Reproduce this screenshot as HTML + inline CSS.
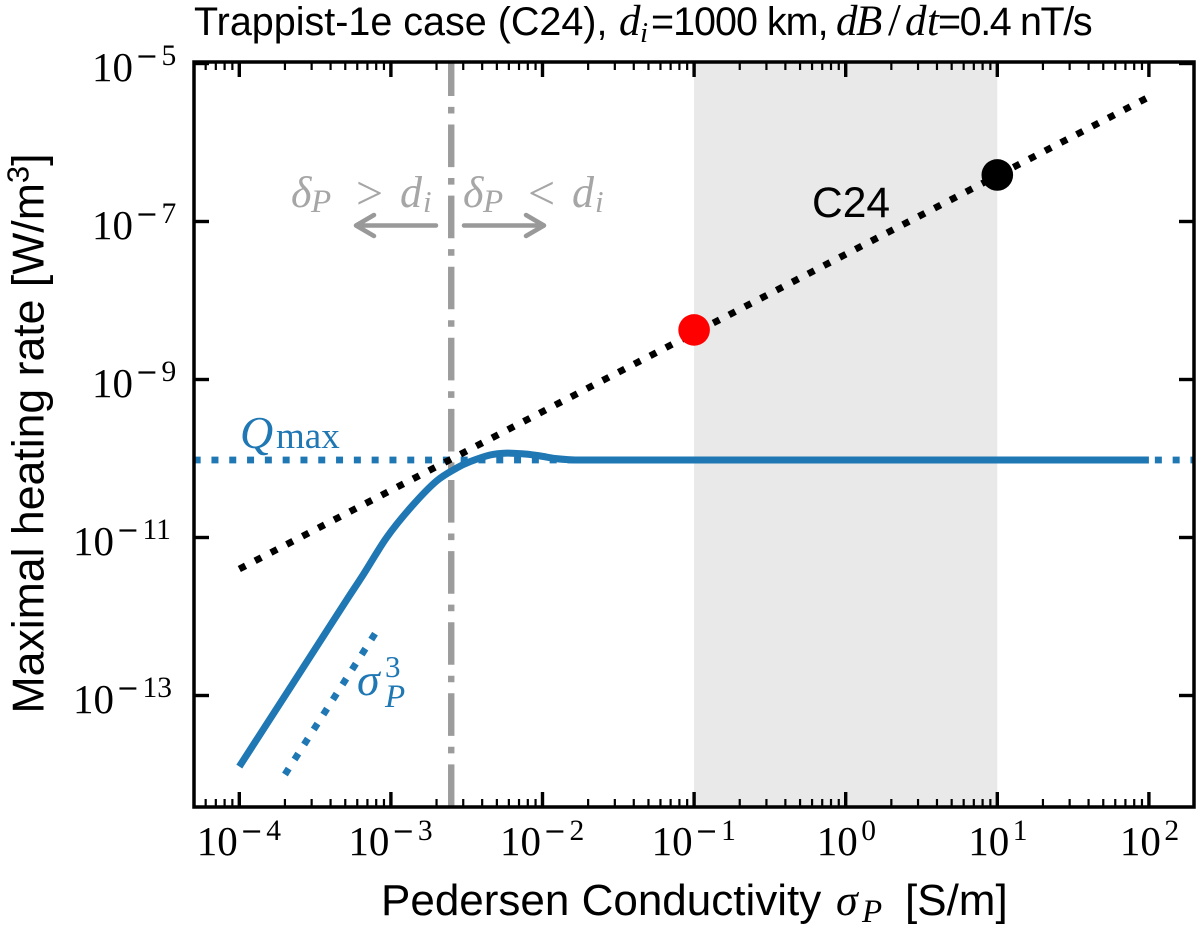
<!DOCTYPE html>
<html lang="en">
<head>
<meta charset="utf-8">
<title>Trappist-1e maximal heating rate</title>
<style>
html,body{margin:0;padding:0;background:#fff;width:1200px;height:930px;overflow:hidden}
svg{display:block}
text{font-family:"Liberation Sans",sans-serif}
.m{font-family:"Liberation Serif",serif;font-style:italic}
.r{font-family:"Liberation Serif",serif}
</style>
</head>
<body>
<svg id="chart" width="1200" height="930" viewBox="0 0 1200 930" xmlns="http://www.w3.org/2000/svg">
  <defs><clipPath id="plot-clip"><rect x="194" y="62" width="1000" height="745"/></clipPath></defs>
  <rect x="0" y="0" width="1200" height="930" fill="#fff"/>
  <g id="marks" clip-path="url(#plot-clip)"></g>
  <g id="axes"></g>

  <text y="35" font-size="39.5" fill="#000"><tspan x="194">Trappist-1e case (C24),</tspan><tspan class="m" x="619" font-size="43">d</tspan><tspan class="m" x="640" y="42" font-size="29">i</tspan><tspan x="651" y="35" letter-spacing="-1">=1000 km,</tspan><tspan class="m" x="836" font-size="43">d</tspan><tspan class="m" x="856" font-size="43">B</tspan><tspan class="r" x="888" font-size="46">/</tspan><tspan class="m" x="905" font-size="43">d</tspan><tspan class="m" x="927" font-size="43">t</tspan><tspan x="938" letter-spacing="-1.4">=0.4 nT/s</tspan></text>

  <text y="915" font-size="44" fill="#000"><tspan x="381">Pedersen Conductivity</tspan><tspan class="m" x="836" font-size="44">σ</tspan><tspan class="m" x="862" y="922" font-size="33">P</tspan><tspan x="905" y="915">[S/m]</tspan></text>

  <text transform="translate(43.5,713.5) rotate(-90)" font-size="44.6" fill="#000">Maximal heating rate [W/m<tspan font-size="31" dy="-15">3</tspan><tspan dy="15">]</tspan></text>

  <text x="812" y="217" font-size="42.5" fill="#000">C24</text>

  <text y="207" font-size="44" fill="#a6a6a6"><tspan class="m" x="291">δ</tspan><tspan class="m" x="311" y="212" font-size="33">P</tspan><tspan class="r" x="356" y="209" font-size="48">&gt;</tspan><tspan class="m" x="400" y="207">d</tspan><tspan class="m" x="423" y="212" font-size="31">i</tspan></text>
  <text y="207" font-size="44" fill="#a6a6a6"><tspan class="m" x="463">δ</tspan><tspan class="m" x="483" y="212" font-size="33">P</tspan><tspan class="r" x="528" y="209" font-size="48">&lt;</tspan><tspan class="m" x="572" y="207">d</tspan><tspan class="m" x="595" y="212" font-size="31">i</tspan></text>

  <text y="448" font-size="46" fill="#1f77b4"><tspan class="m" x="240">Q</tspan><tspan class="r" x="276" font-size="37">max</tspan></text>
  <text y="695" font-size="46" fill="#1f77b4"><tspan class="m" x="357">σ</tspan><tspan class="r" x="385" y="677" font-size="31">3</tspan><tspan class="m" x="385" y="707" font-size="33">P</tspan></text>

  <g fill="none" stroke="#999" stroke-width="4.5" stroke-linecap="round" stroke-linejoin="round">
    <path d="M436 225.5H356M374 215L356 225.5L374 236"/>
  </g>
  <g fill="none" stroke="#999" stroke-width="4.5" stroke-linecap="round" stroke-linejoin="round">
    <path d="M464 225.5H544M526 215L544 225.5L526 236"/>
  </g>
</svg>

<script>
// Chart data
const conductivity = [1e-4, 2.16e-4, 3.4e-4, 5.1e-4, 6.58e-4, 9.38e-4, 1.37e-3, 2.0e-3, 2.72e-3, 3.33e-3, 4.51e-3, 5.8e-3, 7.67e-3, 9.6e-3, 1.21e-2, 1.58e-2, 2.2e-2, 3.2e-2, 1e-1, 1, 10, 100];
const heatingRate = [1.26e-14, 1.245e-13, 4.81e-13, 1.61e-12, 3.4e-12, 1.0e-11, 2.47e-11, 5.19e-11, 7.59e-11, 9.12e-11, 1.107e-10, 1.17e-10, 1.14e-10, 1.08e-10, 1.0e-10, 9.62e-11, 9.57e-11, 9.57e-11, 9.57e-11, 9.57e-11, 9.57e-11, 9.57e-11];
const c24Conductivity = [1e-4, 1e2];
const c24Heating = [3.99e-12, 3.77e-6];
const qmaxConductivity = [5e-5, 2e2];
const qmaxHeating = [9.57e-11, 9.57e-11];
const cubicConductivity = [2e-4, 8e-4];
const cubicHeating = [1e-14, 6.4e-13];
const crossoverConductivity = [2.5e-3];
const shadedRange = [0.1, 10];
const redPointConductivity = [0.1];
const redPointHeating = [4.24e-9];
const blackPointConductivity = [10];
const blackPointHeating = [3.88e-7];
const xTickExponents = [-4, -3, -2, -1, 0, 1, 2];
const yTickExponents = [-5, -7, -9, -11, -13];
const xMinorMultipliers = [2, 3, 4, 5, 6, 7, 8, 9];
const xMinorExponents = [-5, -4, -3, -2, -1, 0, 1, 2];

// Axis functions
const AX = {left: 194, right: 1194, top: 62, bottom: 807};
function xPos(v) { return 239.3 + 151.6 * (Math.log10(v) + 4); }
function yPos(v) { return 63.5 + 79 * (-5 - Math.log10(v)); }

const NS = 'http://www.w3.org/2000/svg';
const marks = document.getElementById('marks');
const axes = document.getElementById('axes');
function make(parent, tag, attrs) {
  const el = document.createElementNS(NS, tag);
  for (const k in attrs) el.setAttribute(k, attrs[k]);
  parent.appendChild(el);
  return el;
}
function linePath(xs, ys) {
  return xs.map((v, i) => (i ? 'L' : 'M') + xPos(v).toFixed(2) + ' ' + yPos(ys[i]).toFixed(2)).join('');
}
function smoothPath(xs, ys) {
  const p = xs.map((v, i) => [xPos(v), yPos(ys[i])]);
  let d = 'M' + p[0][0].toFixed(2) + ' ' + p[0][1].toFixed(2);
  for (let i = 0; i < p.length - 1; i++) {
    const a = p[Math.max(i - 1, 0)], b = p[i], c = p[i + 1], e = p[Math.min(i + 2, p.length - 1)];
    const h = (c[0] - b[0]) / 3;
    const m1 = (c[1] - a[1]) / Math.max(c[0] - a[0], 1);
    const m2 = (e[1] - b[1]) / Math.max(e[0] - b[0], 1);
    d += 'C' + (b[0] + h).toFixed(2) + ' ' + (b[1] + m1 * h).toFixed(2) + ' ' +
         (c[0] - h).toFixed(2) + ' ' + (c[1] - m2 * h).toFixed(2) + ' ' +
         c[0].toFixed(2) + ' ' + c[1].toFixed(2);
  }
  return d;
}

// Shaded band
const band = make(marks, 'rect', {x: xPos(shadedRange[0]), y: AX.top, width: xPos(shadedRange[1]) - xPos(shadedRange[0]), height: AX.bottom - AX.top, fill: '#e9e9e9'});



// Crossover line, drawn from the bottom upward
const crossX = xPos(crossoverConductivity[0]);
const cross = make(marks, 'line', {x1: crossX, y1: AX.bottom, x2: crossX, y2: AX.top, stroke: '#9c9c9c', 'stroke-width': 6.4, 'stroke-dasharray': '42.6 11 6.6 10.9'});



// Series
const qmaxLine = make(marks, 'path', {d: linePath(qmaxConductivity, qmaxHeating), fill: 'none', stroke: '#1f77b4', 'stroke-width': 6.8, 'stroke-dasharray': '7 10.8'});



const c24Line = make(marks, 'path', {d: linePath(c24Conductivity, c24Heating), fill: 'none', stroke: '#000', 'stroke-width': 6.8, 'stroke-dasharray': '7 10.8'});



const cubicLine = make(marks, 'path', {d: linePath(cubicConductivity, cubicHeating), fill: 'none', stroke: '#1f77b4', 'stroke-width': 6.8, 'stroke-dasharray': '7 10.8'});



const heatLine = make(marks, 'path', {d: smoothPath(conductivity, heatingRate), fill: 'none', stroke: '#1f77b4', 'stroke-width': 7});



const redDot = make(marks, 'circle', {cx: xPos(redPointConductivity[0]), cy: yPos(redPointHeating[0]), r: 15.8, fill: '#ff0000'});



const blackDot = make(marks, 'circle', {cx: xPos(blackPointConductivity[0]), cy: yPos(blackPointHeating[0]), r: 15.8, fill: '#000'});



// Minor x ticks (bottom and top)
xMinorExponents.forEach(function (e) {
  xMinorMultipliers.forEach(function (m) {
    const x = xPos(m * Math.pow(10, e));
    if (x <= AX.left + 2 || x >= AX.right - 2) return;
    const bottomTick = make(axes, 'line', {x1: x, x2: x, y1: AX.bottom, y2: AX.bottom - 8, stroke: '#000', 'stroke-width': 2.2});
    
    
    const topTick = make(axes, 'line', {x1: x, x2: x, y1: AX.top, y2: AX.top + 8, stroke: '#000', 'stroke-width': 2.2});
    
    
  });
});

// Major x ticks and labels
xTickExponents.forEach(function (e) {
  const x = xPos(Math.pow(10, e));
  const bottomTick = make(axes, 'line', {x1: x, x2: x, y1: AX.bottom, y2: AX.bottom - 15, stroke: '#000', 'stroke-width': 3.4});
  
  
  const topTick = make(axes, 'line', {x1: x, x2: x, y1: AX.top, y2: AX.top + 15, stroke: '#000', 'stroke-width': 3.4});
  
  
  const start = e < 0 ? x - 42.5 : x - 29;
  const label = tickLabel(start, 855, 840, e);
  
  
});

// Major y ticks and labels
yTickExponents.forEach(function (e) {
  const y = yPos(Math.pow(10, e));
  const leftTick = make(axes, 'line', {x1: AX.left, x2: AX.left + 15, y1: y, y2: y, stroke: '#000', 'stroke-width': 3.4});
  
  
  const rightTick = make(axes, 'line', {x1: AX.right, x2: AX.right - 15, y1: y, y2: y, stroke: '#000', 'stroke-width': 3.4});
  
  
  const start = e <= -10 ? 73 : 92;
  const label = tickLabel(start, y + 17.5, y + 1.5, e);
  
  
});

// Spines
const spines = make(axes, 'rect', {x: AX.left, y: AX.top, width: AX.right - AX.left, height: AX.bottom - AX.top, fill: 'none', stroke: '#000', 'stroke-width': 3.5});



function tickLabel(x, baseY, supY, exponent) {
  const g = make(axes, 'text', {fill: '#000'});
  const base = make(g, 'tspan', {x: x, y: baseY, 'font-size': 41, style: 'font-family:"Liberation Serif",serif'});
  base.textContent = '10';
  let cursor = x + 44.5;
  if (exponent < 0) {
    const minus = make(g, 'tspan', {x: cursor - 1, y: supY, 'font-size': 27, style: 'font-family:"DejaVu Sans",sans-serif'});
    minus.textContent = '\u2212';
    cursor += 25;
  }
  const digits = make(g, 'tspan', {x: cursor, y: supY, 'font-size': 29.5, style: 'font-family:"Liberation Serif",serif'});
  digits.textContent = String(Math.abs(exponent));
  return g;
}
</script>
</body>
</html>
